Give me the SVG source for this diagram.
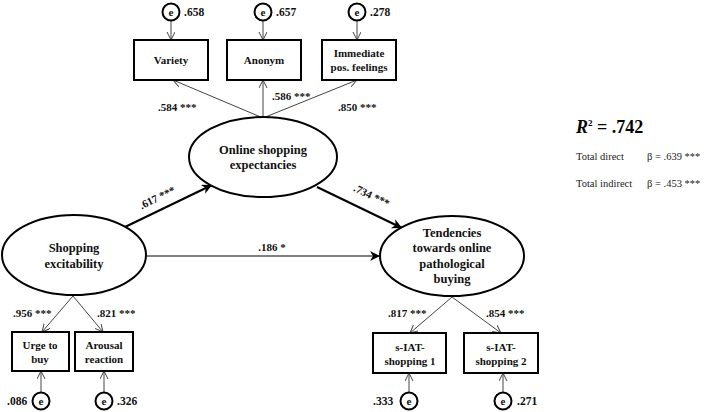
<svg xmlns="http://www.w3.org/2000/svg" width="704" height="412" viewBox="0 0 704 412">
<style>
.bx{fill:#fff;stroke:#000;stroke-width:2}
.el{fill:#fff;stroke:#000;stroke-width:2}
.ec{fill:#fff;stroke:#000;stroke-width:2}
.thin{stroke:#444;stroke-width:1;fill:none}
.thick{stroke:#000;stroke-width:2.2;fill:none}
.t{font-family:"Liberation Serif","Times New Roman",serif;font-weight:bold;fill:#111;text-anchor:middle}
.bt{font-size:11px}
.et{font-size:12.5px}
.lb{font-family:"Liberation Serif","Times New Roman",serif;font-weight:bold;font-size:11px;fill:#111}
.el2{font-size:11.5px}
.st{font-family:"Liberation Serif","Times New Roman",serif;font-size:10.5px;fill:#222}
</style>
<defs>
<marker id="open" markerWidth="10" markerHeight="10" refX="8" refY="4" orient="auto" markerUnits="userSpaceOnUse">
<path d="M0,0 L8,4 L0,8" fill="none" stroke="#444" stroke-width="1"/>
</marker>
<marker id="fill" markerWidth="12" markerHeight="12" refX="10" refY="5" orient="auto" markerUnits="userSpaceOnUse">
<path d="M0,0 L10,5 L0,10 L3,5 Z" fill="#000"/>
</marker>
</defs>
<g id="connectors">
<line class="thin" x1="171" y1="21" x2="171" y2="40" marker-end="url(#open)"/>
<line class="thin" x1="263" y1="21" x2="263" y2="40" marker-end="url(#open)"/>
<line class="thin" x1="357" y1="21" x2="357" y2="40" marker-end="url(#open)"/>
<line class="thin" x1="263" y1="118" x2="173" y2="80" marker-end="url(#open)"/>
<line class="thin" x1="263" y1="118" x2="263" y2="80" marker-end="url(#open)"/>
<line class="thin" x1="263" y1="118" x2="357" y2="80" marker-end="url(#open)"/>
<line class="thin" x1="73" y1="296" x2="42" y2="332" marker-end="url(#open)"/>
<line class="thin" x1="73" y1="296" x2="103" y2="332" marker-end="url(#open)"/>
<line class="thin" x1="452" y1="297" x2="410" y2="333" marker-end="url(#open)"/>
<line class="thin" x1="452" y1="297" x2="501" y2="333" marker-end="url(#open)"/>
<line class="thin" x1="41" y1="392" x2="41" y2="371" marker-end="url(#open)"/>
<line class="thin" x1="104" y1="392" x2="104" y2="371" marker-end="url(#open)"/>
<line class="thin" x1="409" y1="392" x2="409" y2="373" marker-end="url(#open)"/>
<line class="thin" x1="503" y1="392" x2="503" y2="373" marker-end="url(#open)"/>
<line class="thick" x1="125" y1="227" x2="212" y2="185" marker-end="url(#fill)"/>
<line class="thick" x1="317" y1="187" x2="402" y2="228" marker-end="url(#fill)"/>
<line stroke="#000" stroke-width="1.1" x1="146" y1="256" x2="380" y2="256" marker-end="url(#fill)"/>
<text class="lb" x="158" y="111">.584 ***</text>
<text class="lb" x="272" y="100">.586 ***</text>
<text class="lb" x="338" y="111">.850 ***</text>
<text class="lb" text-anchor="middle" transform="translate(159,201) rotate(-26)">.617 ***</text>
<text class="lb" text-anchor="middle" transform="translate(370,199) rotate(26)">.734 ***</text>
<text class="lb" text-anchor="middle" x="272" y="251">.186 *</text>
<text class="lb" x="13" y="317">.956 ***</text>
<text class="lb" x="97" y="317">.821 ***</text>
<text class="lb" x="388" y="317">.817 ***</text>
<text class="lb" x="486" y="317">.854 ***</text>
</g>
<g id="e-variety"><circle class="ec" cx="171" cy="12" r="8.5"/><text class="t bt" x="171" y="16">e</text><text class="lb el2" x="184" y="16">.658</text></g>
<g id="e-anonym"><circle class="ec" cx="263" cy="12" r="8.5"/><text class="t bt" x="263" y="16">e</text><text class="lb el2" x="276" y="16">.657</text></g>
<g id="e-immediate"><circle class="ec" cx="357" cy="12" r="8.5"/><text class="t bt" x="357" y="16">e</text><text class="lb el2" x="370" y="16">.278</text></g>
<g id="variety"><rect class="bx" x="134" y="40" width="74" height="40"/><text class="t bt" x="171" y="64">Variety</text></g>
<g id="anonym"><rect class="bx" x="227" y="40" width="74" height="40"/><text class="t bt" x="264" y="64">Anonym</text></g>
<g id="immediate"><rect class="bx" x="322" y="40" width="74" height="40"/><text class="t bt" x="359" y="57">Immediate</text><text class="t bt" x="359" y="71">pos. feelings</text></g>
<g id="online"><ellipse class="el" cx="263" cy="157" rx="74" ry="40"/><text class="t et" x="263" y="154">Online shopping</text><text class="t et" x="263" y="169">expectancies</text></g>
<g id="shopping"><ellipse class="el" cx="74" cy="255" rx="72" ry="40"/><text class="t et" x="74" y="252">Shopping</text><text class="t et" x="74" y="268">excitability</text></g>
<g id="tendencies"><ellipse class="el" cx="452" cy="256" rx="72" ry="40"/><text class="t et" x="452" y="237">Tendencies</text><text class="t et" x="452" y="252">towards online</text><text class="t et" x="452" y="268">pathological</text><text class="t et" x="452" y="283">buying</text></g>
<g id="urge"><rect class="bx" x="12" y="332" width="57" height="39"/><text class="t bt" x="40" y="349">Urge to</text><text class="t bt" x="40" y="363">buy</text></g>
<g id="arousal"><rect class="bx" x="75" y="332" width="58" height="39"/><text class="t bt" x="104" y="349">Arousal</text><text class="t bt" x="104" y="363">reaction</text></g>
<g id="siat1"><rect class="bx" x="373" y="333" width="73" height="40"/><text class="t bt" x="410" y="351">s-IAT-</text><text class="t bt" x="410" y="365">shopping 1</text></g>
<g id="siat2"><rect class="bx" x="464" y="333" width="74" height="40"/><text class="t bt" x="501" y="351">s-IAT-</text><text class="t bt" x="501" y="365">shopping 2</text></g>
<g id="e-urge"><circle class="ec" cx="41" cy="401" r="8.5"/><text class="t bt" x="41" y="405">e</text><text class="lb el2" x="7" y="405">.086</text></g>
<g id="e-arousal"><circle class="ec" cx="104" cy="401" r="8.5"/><text class="t bt" x="104" y="405">e</text><text class="lb el2" x="117" y="405">.326</text></g>
<g id="e-siat1"><circle class="ec" cx="409" cy="401" r="8.5"/><text class="t bt" x="409" y="405">e</text><text class="lb el2" x="373" y="405">.333</text></g>
<g id="e-siat2"><circle class="ec" cx="503" cy="401" r="8.5"/><text class="t bt" x="503" y="405">e</text><text class="lb el2" x="517" y="405">.271</text></g>
<g id="stats">
<text font-family="Liberation Serif,Times New Roman,serif" font-weight="bold" font-size="18" x="576" y="133"><tspan font-style="italic">R</tspan><tspan font-size="9" dy="-7">2</tspan><tspan dy="7"> = .742</tspan></text>
<text class="st" x="576" y="160">Total direct</text><text class="st" x="647" y="160">β = .639 ***</text>
<text class="st" x="576" y="187">Total indirect</text><text class="st" x="647" y="187">β = .453 ***</text>
</g>
</svg>
